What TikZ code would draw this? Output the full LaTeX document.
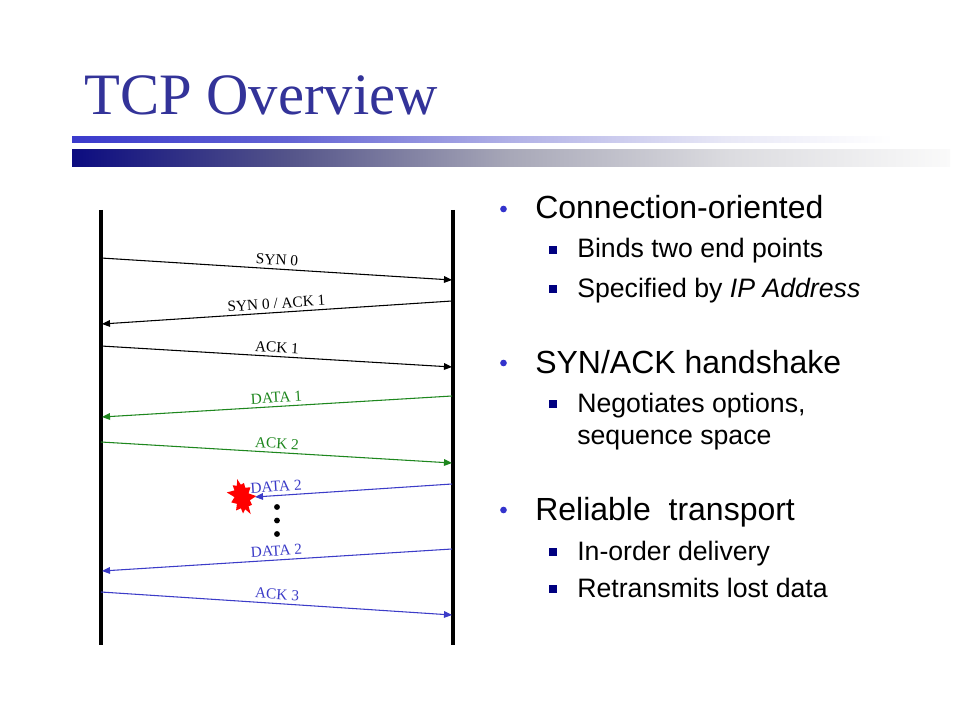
\documentclass[tikz,border=0pt]{standalone}
\usepackage{fontspec}
\setmainfont{Liberation Serif}
\newfontfamily\arialfont{Liberation Sans}
\usetikzlibrary{arrows.meta,shapes.symbols}
\definecolor{titleblue}{RGB}{51,51,153}
\definecolor{bulblue}{RGB}{51,51,204}
\definecolor{subnavy}{RGB}{0,0,128}
\definecolor{msggreen}{RGB}{30,135,30}
\definecolor{msgblue}{RGB}{60,60,200}
\definecolor{ba0}{RGB}{58,58,204}
\definecolor{ba1}{RGB}{100,100,212}
\definecolor{ba2}{RGB}{176,176,230}
\definecolor{ba3}{RGB}{232,232,246}
\definecolor{bb0}{RGB}{12,12,128}
\definecolor{bb1}{RGB}{85,85,138}
\definecolor{bb2}{RGB}{168,168,184}
\definecolor{bb3}{RGB}{220,220,224}
\definecolor{bb4}{RGB}{250,250,250}
\pgfdeclarehorizontalshading{barA}{100bp}{color(0bp)=(ba0); color(25bp)=(ba0); color(37.5bp)=(ba1); color(50bp)=(ba2); color(62.5bp)=(ba3); color(72bp)=(white); color(100bp)=(white)}
\pgfdeclarehorizontalshading{barB}{100bp}{color(0bp)=(bb0); color(25bp)=(bb0); color(37.5bp)=(bb1); color(50bp)=(bb2); color(62.5bp)=(bb3); color(75bp)=(bb4); color(100bp)=(bb4)}
\tikzset{
  lifeline/.style={line width=2.4pt},
  msg/.style={line width=0.8pt,-{Triangle[length=6pt,width=5pt]}},
  lbl/.style={font=\fontsize{11.5}{12}\selectfont, sloped, above, inner sep=2.6pt},
  mainitem/.style={font=\arialfont\fontsize{24}{28}\selectfont, anchor=base west, inner sep=0pt},
  subitem/.style={font=\arialfont\fontsize{20}{24}\selectfont, anchor=base west, inner sep=0pt},
  dotbullet/.style={circle, fill=bulblue, inner sep=0pt, minimum size=5pt},
  sqbullet/.style={rectangle, fill=subnavy, inner sep=0pt, minimum size=5.4pt},
  ellip/.style={circle, fill=black, inner sep=0pt, minimum size=4.4pt}
}
\begin{document}
\begin{tikzpicture}[x=0.75pt,y=-0.75pt]
\useasboundingbox (0,0) rectangle (960,720);
\fill[white] (0,0) rectangle (960,720);
% title
\node[font=\fontsize{44}{50}\selectfont, text=titleblue, anchor=base west, inner sep=0pt] (title) at (84,115) {TCP Overview};
% bars
\shade[shading=barA] (72,137) rectangle (945,143);
\shade[shading=barB] (72,150) rectangle (950,167);
% lifelines
\coordinate (Ltop) at (101,210); \coordinate (Lbot) at (101,645);
\coordinate (Rtop) at (453,210); \coordinate (Rbot) at (453,645);
\draw[lifeline] (Ltop) -- (Lbot);
\draw[lifeline] (Rtop) -- (Rbot);
% message endpoints
\coordinate (a1) at (101,258); \coordinate (b1) at (452,280);
\coordinate (b2) at (452,301); \coordinate (a2) at (102,324);
\coordinate (a3) at (101,346); \coordinate (b3) at (452,367);
\coordinate (b4) at (452,396); \coordinate (a4) at (102,417);
\coordinate (a5) at (101,442); \coordinate (b5) at (452,463);
\coordinate (b6) at (452,484); \coordinate (x6) at (255,497);
\coordinate (b7) at (452,549); \coordinate (a7) at (102,571);
\coordinate (a8) at (101,592); \coordinate (b8) at (452,615);
\draw[msg] (a1) -- node[lbl]{SYN 0} (b1);
\draw[msg] (b2) -- node[lbl]{SYN 0 / ACK 1} (a2);
\draw[msg] (a3) -- node[lbl]{ACK 1} (b3);
\draw[msg,msggreen] (b4) -- node[lbl,text=msggreen]{DATA 1} (a4);
\draw[msg,msggreen] (a5) -- node[lbl,text=msggreen]{ACK 2} (b5);
\draw[msg,msgblue] (b6) -- node[lbl,pos=0.89,text=msgblue]{DATA 2} (x6);
\draw[msg,msgblue] (b7) -- node[lbl,text=msgblue]{DATA 2} (a7);
\draw[msg,msgblue] (a8) -- node[lbl,text=msgblue]{ACK 3} (b8);
% lost packet burst
\node[starburst, fill=red, draw=none, minimum width=23pt, minimum height=31pt, starburst points=11, starburst point height=6pt, rotate=15] (boom) at (242,497) {};
% ellipsis dots
\node[ellip] (d1) at (277,507) {};
\node[ellip] (d2) at (277,520.5) {};
\node[ellip] (d3) at (277,534) {};
% right-hand bullets
\node[dotbullet] (m1) at (503.5,209) {};
\node[mainitem] (t1) at (535,219) {Connection-oriented};
\node[sqbullet] (s1) at (553,250) {};
\node[subitem] (t11) at (577,258) {Binds two end points};
\node[sqbullet] (s2) at (553,289) {};
\node[subitem] (t12) at (577,297) {Specified by \textit{IP Address}};
\node[dotbullet] (m2) at (503.5,363) {};
\node[mainitem] (t2) at (535,373) {SYN/ACK handshake};
\node[sqbullet] (s3) at (553,404) {};
\node[subitem] (t21) at (577,412) {Negotiates options,};
\node[subitem] (t22) at (577,444) {sequence space};
\node[dotbullet] (m3) at (503.5,510) {};
\node[mainitem] (t3) at (535,520) {Reliable\ \ transport};
\node[sqbullet] (s4) at (553,552) {};
\node[subitem] (t31) at (577,560) {In-order delivery};
\node[sqbullet] (s5) at (553,589) {};
\node[subitem] (t32) at (577,597) {Retransmits lost data};
\end{tikzpicture}
\end{document}
